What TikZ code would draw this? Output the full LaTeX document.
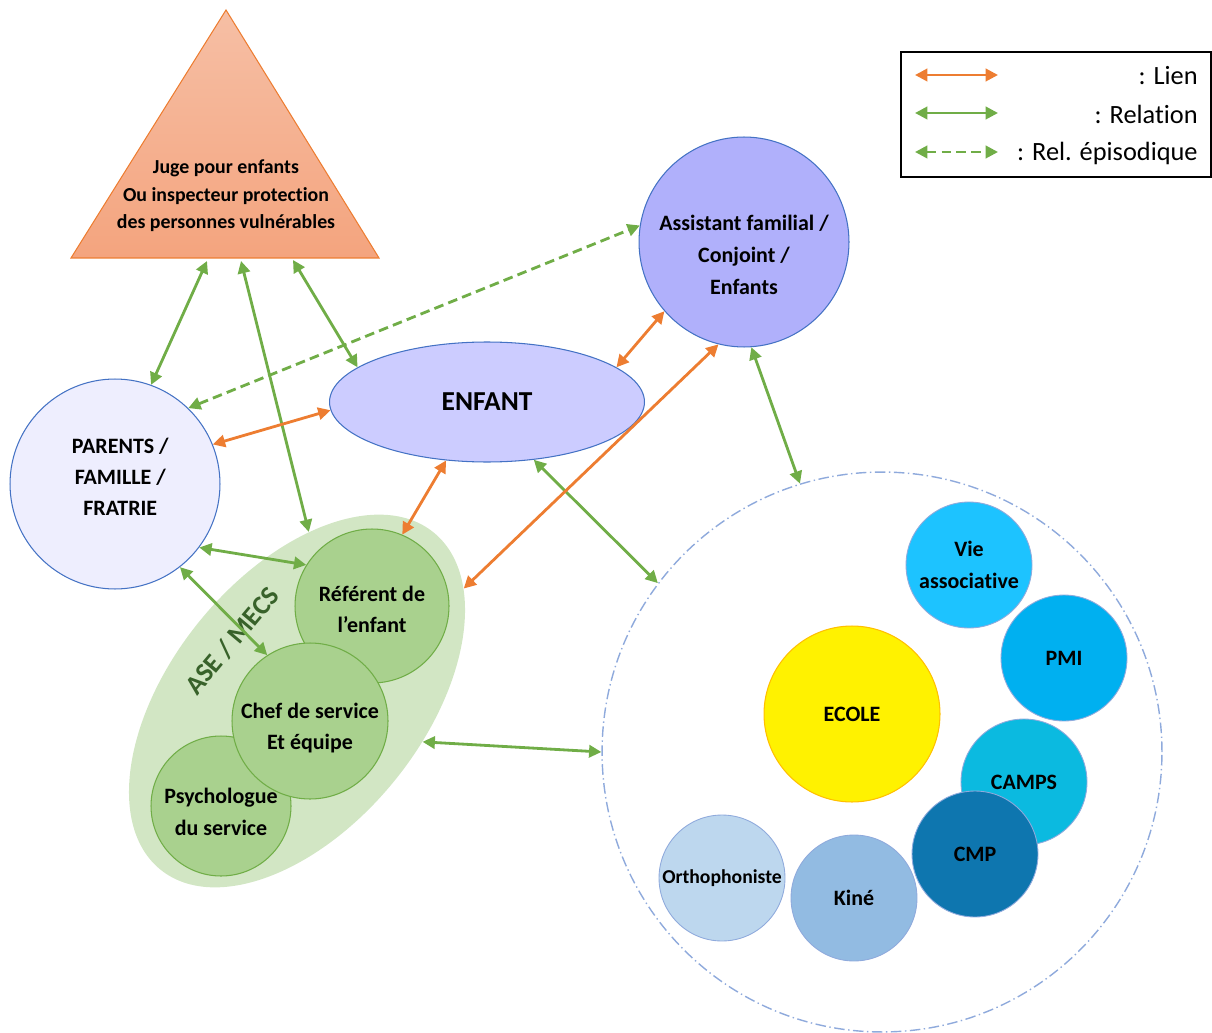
\documentclass[tikz,border=0pt]{standalone}
\usepackage{fontspec}
\setmainfont{Carlito}[Ligatures=NoCommon]
\usetikzlibrary{arrows.meta,shapes.geometric}
\definecolor{lienorange}{HTML}{ED7D31}
\definecolor{relgreen}{HTML}{70AD47}
\definecolor{asegreen}{HTML}{38622A}
\definecolor{asefill}{HTML}{D2E6C4}
\definecolor{servfill}{HTML}{A9D18E}
\definecolor{bordblue}{HTML}{4472C4}
\definecolor{parfill}{HTML}{EEEEFE}
\definecolor{enffill}{HTML}{CCCCFF}
\definecolor{famfill}{HTML}{B0B0FB}
\definecolor{trtop}{HTML}{F6BFA5}
\definecolor{trbot}{HTML}{F4A47E}
\definecolor{dashblue}{HTML}{8FAADC}
\definecolor{ecoleline}{HTML}{FFC000}
\definecolor{viefill}{HTML}{1DC3FF}
\definecolor{pmifill}{HTML}{00B0F0}
\definecolor{campsfill}{HTML}{0BBAE0}
\definecolor{cmpfill}{HTML}{0E76AF}
\definecolor{kinefill}{HTML}{92BBE2}
\definecolor{orthofill}{HTML}{BDD7EE}
\begin{document}
\begin{tikzpicture}[x=0.02cm, y=-0.02cm, <->, >={Triangle[length=7pt,width=7pt]},
  main node/.style={circle, draw=bordblue, line width=0.6pt, inner sep=0pt, align=center,
    font=\fontsize{12.5}{17.8}\selectfont\bfseries},
  service/.style={main node, fill=servfill, draw=relgreen},
  partner/.style={main node, minimum size=2.52cm, draw=bordblue!60, line width=0.5pt},
  lien/.style={draw=lienorange, line width=1.6pt},
  relation/.style={draw=relgreen, line width=1.6pt},
  episod/.style={relation, dash pattern=on 5.5pt off 3pt}]
  \useasboundingbox (0,0) rectangle (1212,1033);

  % juge
  \shade[-, top color=trtop, bottom color=trbot, draw=lienorange, line width=0.6pt]
    (226,10) -- (379,258) -- (71,258) -- cycle;
  \node[align=center, font=\fontsize{11.3}{15.6}\selectfont\bfseries] (juge) at (226,196)
    {Juge pour enfants\\Ou inspecteur protection\\des personnes vulnérables};
  \coordinate (j1) at (207,261);
  \coordinate (j2) at (241,261);
  \coordinate (j3) at (293,260);

  % famille, enfant, accueil
  \node[main node, fill=parfill, minimum size=4.2cm, text height=36.4pt] (parents) at (115,484)
    {\hspace{6pt}PARENTS /\\\hspace{6pt}FAMILLE /\\\hspace{6pt}FRATRIE};
  \node[main node, fill=famfill, minimum size=4.2cm, text height=60pt,
    font=\fontsize{12.5}{18.2}\selectfont\bfseries] (famille) at (744,242)
    {Assistant familial /\\Conjoint /\\Enfants};
  \node[main node, ellipse, fill=enffill, minimum width=6.3cm, minimum height=2.4cm,
    font=\fontsize{15.6}{18}\selectfont\bfseries] (enfant) at (487,402) {ENFANT};

  % ASE / MECS
  \node[ellipse, fill=asefill, minimum width=8.68cm, minimum height=5.04cm,
    inner sep=0pt, rotate=51] (ase) at (297,701) {};
  \node[service, minimum size=2.8cm, text height=33.4pt] (psy) at (221,806) {Psychologue\\du service};
  \node[service, minimum size=3.08cm, text height=30.2pt] (referent) at (372,606) {Référent de\\l’enfant};
  \node[service, minimum size=3.12cm, text height=34.6pt] (chef) at (310,721) {Chef de service\\Et équipe};
  \node[rotate=50, text=asegreen, font=\fontsize{15.4}{18}\selectfont\bfseries] (mecs)
    at (232,641) {ASE / MECS};

  % reseau
  \node[circle, draw=dashblue, line width=0.8pt, minimum size=11.2cm,
    dash pattern=on 6pt off 2pt on 0.8pt off 2pt] (reseau) at (882,752) {};
  \node[main node, fill=yellow, draw=ecoleline, minimum size=3.52cm] (ecole) at (852,714) {ECOLE};
  \node[partner, fill=viefill] (vie) at (969,565) {Vie\\associative};
  \node[partner, fill=pmifill] (pmi) at (1064,658) {PMI};
  \node[partner, fill=campsfill] (camps) at (1024,782) {CAMPS};
  \node[partner, fill=cmpfill] (cmp) at (975,854) {CMP};
  \node[partner, fill=kinefill] (kine) at (854,898) {Kiné};
  \node[partner, fill=orthofill, font=\fontsize{11.2}{15}\selectfont\bfseries] (ortho) at (722,878) {Orthophoniste};

  % relations
  \path (j1) edge[relation] (parents.70)
        (j2) edge[relation] (ase.35.6)
        (j3) edge[relation] (enfant.165);
  \path (parents.-37) edge[relation] (referent.148.5)
        (parents.-52.5) edge[relation] (chef.123.3)
        (parents.46.5) edge[episod] (famille.171);
  \path (famille.-86) edge[relation] (reseau.107.6)
        (enfant.-51.3) edge[relation] (reseau.143.4)
        (ase.-69.5) edge[relation] (reseau.180);

  % liens
  \path (enfant.183) edge[lien] (parents.22.8)
        (enfant.235) edge[lien] (referent.67);
  \path (famille.221) edge[lien] (enfant.15.7)
        (famille.256) edge[lien] (ase.-17.7);

  % legende
  \draw[-, line width=0.8pt] (901,52) rectangle (1211,177);
  \coordinate (la1) at (915,75);  \coordinate (lb1) at (998,75);
  \coordinate (la2) at (915,113); \coordinate (lb2) at (998,113);
  \coordinate (la3) at (915,152); \coordinate (lb3) at (998,152);
  \path (la1) edge[lien] (lb1)
        (la2) edge[relation] (lb2)
        (la3) edge[episod] (lb3);
  \tikzstyle{every node}=[font=\fontsize{15}{18}\selectfont, anchor=east, inner sep=0pt]
  \node (tlien) at (1198,76) {: Lien};
  \node (trel) at (1198,114) {: Relation};
  \node (tepi) at (1198,153) {: Rel. épisodique};
\end{tikzpicture}
\end{document}
